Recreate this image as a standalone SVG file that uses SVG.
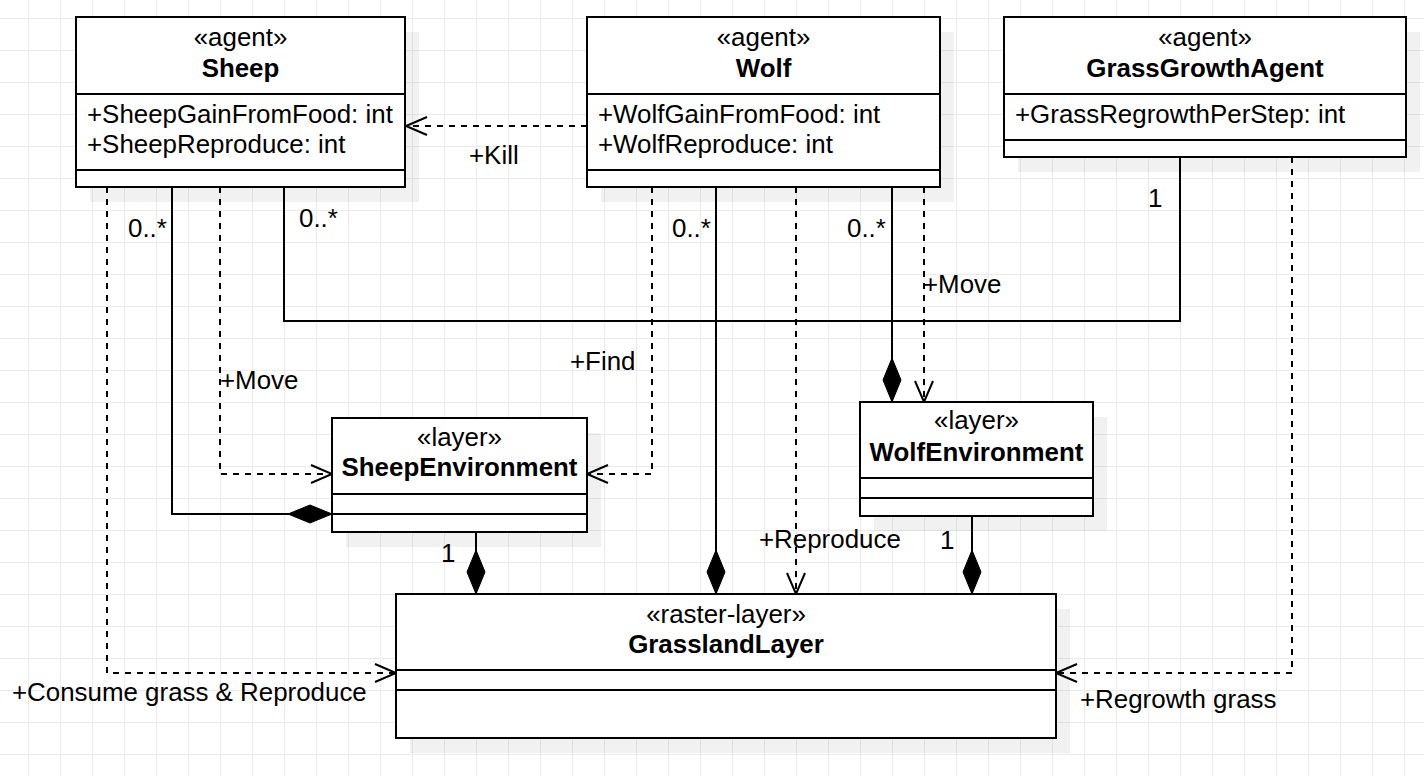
<svg xmlns="http://www.w3.org/2000/svg" width="1424" height="776" viewBox="0 0 1424 776">
<style>
text{font-family:"Liberation Sans",Arial,Helvetica,sans-serif;font-size:25.9px;fill:#000}
.b{font-weight:bold}
.c{text-anchor:middle}
.box{fill:#fff;stroke:#000;stroke-width:2}
.sep{stroke:#000;stroke-width:2;fill:none}
.sh{fill:#000;fill-opacity:0.055}
.ln{fill:none;stroke:#000;stroke-width:2}
.d{stroke-dasharray:6 6}
.arr{marker-end:url(#open)}
.dia{marker-end:url(#diamond)}
</style>
<defs>
<pattern id="grid" x="28" y="18" width="32" height="32" patternUnits="userSpaceOnUse">
<path d="M0 0.5H32M0.5 0V32" stroke="#ebebeb" stroke-width="1" fill="none"/>
</pattern>
<marker id="open" markerUnits="userSpaceOnUse" viewBox="-24 -12 28 24" refX="0" refY="0" markerWidth="28" markerHeight="24" orient="auto" overflow="visible">
<path d="M-21,-9L0,0L-21,9" fill="none" stroke="#000" stroke-width="2" stroke-dasharray="none"/>
</marker>
<marker id="diamond" markerUnits="userSpaceOnUse" viewBox="-46 -11 48 22" refX="0" refY="0" markerWidth="48" markerHeight="22" orient="auto" overflow="visible">
<path d="M0,0L-22,-9L-44,0L-22,9Z" fill="#000" stroke="#000" stroke-width="1" stroke-dasharray="none"/>
</marker>
</defs>
<rect width="1424" height="776" fill="#fff"/>
<rect width="1424" height="776" fill="url(#grid)"/>
<g id="shadows">
<rect class="sh" x="90" y="32" width="329" height="170"/>
<rect class="sh" x="601" y="32" width="353" height="170"/>
<rect class="sh" x="1018" y="32" width="402" height="140"/>
<rect class="sh" x="346" y="433" width="255" height="114"/>
<rect class="sh" x="874" y="417" width="233" height="114"/>
<rect class="sh" x="410" y="609" width="660" height="144"/>
</g>
<g id="connectors">
<path class="ln d arr" d="M587,126H406"/>
<path class="ln d arr" d="M107,187V673H396"/>
<path class="ln dia" d="M172,187V514H332"/>
<path class="ln d arr" d="M220,187V474H332"/>
<path class="ln" d="M284,187V321H1180V157"/>
<path class="ln d arr" d="M652,187V474H587"/>
<path class="ln dia" d="M716,187V594"/>
<path class="ln d arr" d="M796,187V594"/>
<path class="ln dia" d="M892,187V402"/>
<path class="ln d arr" d="M924,187V402"/>
<path class="ln dia" d="M476,532V594"/>
<path class="ln dia" d="M972,516V594"/>
<path class="ln d arr" d="M1292,157V673H1056"/>
<text x="469" y="164">+Kill</text>
<text x="12" y="701">+Consume grass &amp; Reproduce</text>
<text x="128" y="237">0..*</text>
<text x="220" y="389">+Move</text>
<text x="299" y="227">0..*</text>
<text x="1148" y="207">1</text>
<text x="570" y="370">+Find</text>
<text x="672" y="237">0..*</text>
<text x="759" y="548">+Reproduce</text>
<text x="847" y="237">0..*</text>
<text x="923" y="293">+Move</text>
<text x="441" y="562">1</text>
<text x="940" y="549">1</text>
<text x="1080" y="708">+Regrowth grass</text>
</g>
<g id="sheep">
<rect class="box" x="76" y="17" width="329" height="170"/>
<path class="sep" d="M76,94H405M76,170H405"/>
<text class="c" x="240.5" y="46">«agent»</text>
<text class="c b" x="240.5" y="77">Sheep</text>
<text x="87" y="123">+SheepGainFromFood: int</text>
<text x="87" y="153">+SheepReproduce: int</text>
</g>
<g id="wolf">
<rect class="box" x="587" y="17" width="353" height="170"/>
<path class="sep" d="M587,94H940M587,170H940"/>
<text class="c" x="763.5" y="46">«agent»</text>
<text class="c b" x="763.5" y="77">Wolf</text>
<text x="598" y="123">+WolfGainFromFood: int</text>
<text x="598" y="153">+WolfReproduce: int</text>
</g>
<g id="grassGrowthAgent">
<rect class="box" x="1004" y="17" width="402" height="140"/>
<path class="sep" d="M1004,94H1406M1004,140H1406"/>
<text class="c" x="1205" y="46">«agent»</text>
<text class="c b" x="1205" y="77">GrassGrowthAgent</text>
<text x="1015" y="123">+GrassRegrowthPerStep: int</text>
</g>
<g id="sheepEnvironment">
<rect class="box" x="332" y="418" width="255" height="114"/>
<path class="sep" d="M332,494H587M332,514H587"/>
<text class="c" x="459.5" y="446">«layer»</text>
<text class="c b" x="459.5" y="476">SheepEnvironment</text>
</g>
<g id="wolfEnvironment">
<rect class="box" x="860" y="402" width="233" height="114"/>
<path class="sep" d="M860,478H1093M860,498H1093"/>
<text class="c" x="976.5" y="429">«layer»</text>
<text class="c b" x="976.5" y="461">WolfEnvironment</text>
</g>
<g id="grasslandLayer">
<rect class="box" x="396" y="594" width="660" height="144"/>
<path class="sep" d="M396,670H1056M396,690H1056"/>
<text class="c" x="726" y="623">«raster-layer»</text>
<text class="c b" x="726" y="653">GrasslandLayer</text>
</g>
</svg>
